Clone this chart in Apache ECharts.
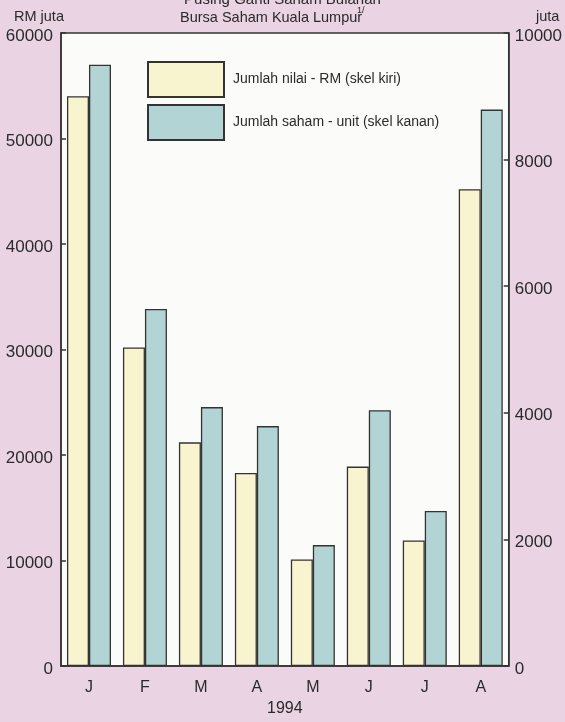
<!DOCTYPE html>
<html>
<head>
<meta charset="utf-8">
<script src="https://cdn.jsdelivr.net/npm/echarts@6/dist/echarts.min.js"></script>
<style>
  html, body { margin: 0; padding: 0; background: #ead4e4; }
  #main { width: 565px; height: 722px; }
</style>
</head>
<body>
<div id="main"></div>
<script>
// bulan 1994
const months = ["J", "F", "M", "A", "M", "J", "J", "A"];
// Jumlah nilai - RM juta (skel kiri)
const nilaiRM = [54000, 30200, 21200, 18300, 10100, 18900, 11900, 45200];
// Jumlah saham - juta unit (skel kanan)
const sahamUnit = [9500, 5640, 4090, 3790, 1910, 4040, 2450, 8790];

const leftTicks = { min: 0, max: 60000, interval: 10000 };
const rightTicks = { min: 0, max: 10000, interval: 2000 };

const chart = echarts.init(document.getElementById("main"));
const font = "Liberation Sans, Arial, sans-serif";
const ink = "#2a2a2a";

// nombor tanpa koma, turun sikit dari tick
function tickLabel(v) {
  return "{v|" + v + "}";
}
const tickRich = { v: { fontSize: 17, color: ink, fontFamily: font, padding: [6, 0, 0, 0] } };

const option = {
  backgroundColor: "#ead4e4",
  textStyle: { fontFamily: font },
  title: [
    {
      text: "Pusing Ganti Saham Bulanan",
      left: "center", top: -13,
      textStyle: { fontSize: 15, fontWeight: "normal", color: ink, fontFamily: font }
    },
    {
      text: "Bursa Saham Kuala Lumpur",
      left: 175, top: 5,
      textStyle: { fontSize: 14.5, fontWeight: "normal", color: ink, fontFamily: font }
    },
    {
      text: "1/",
      left: 352, top: 1,
      textStyle: { fontSize: 9, fontWeight: "normal", color: ink, fontFamily: font }
    },
    {
      text: "RM juta",
      left: 9, top: 4,
      textStyle: { fontSize: 14.5, fontWeight: "normal", color: ink, fontFamily: font }
    },
    {
      text: "juta",
      left: 531, top: 4,
      textStyle: { fontSize: 14.5, fontWeight: "normal", color: ink, fontFamily: font }
    }
  ],
  legend: {
    orient: "vertical",
    left: 142, top: 56,
    itemWidth: 76, itemHeight: 35, itemGap: 6,
    icon: "rect",
    textStyle: { fontSize: 14, color: ink, fontFamily: font, padding: [0, 0, 0, 4] },
    data: ["Jumlah nilai - RM (skel kiri)", "Jumlah saham - unit (skel kanan)"]
  },
  grid: {
    left: 61, right: 55, top: 33, bottom: 54,
    show: true,
    backgroundColor: "#fbfbf9",
    borderColor: "#333",
    borderWidth: 1.5
  },
  xAxis: {
    type: "category",
    data: months,
    axisLine: { lineStyle: { color: "#333", width: 1.5 } },
    axisTick: { show: false },
    axisLabel: { fontSize: 16, color: ink, margin: 14, fontFamily: font },
    name: "1994",
    nameLocation: "middle",
    nameGap: 35,
    nameTextStyle: { fontSize: 16, color: ink, fontFamily: font }
  },
  yAxis: [
    {
      type: "value",
      min: leftTicks.min, max: leftTicks.max, interval: leftTicks.interval,
      splitLine: { show: false },
      axisLine: { show: true, lineStyle: { color: "#333", width: 1.5 } },
      axisTick: { show: true, inside: true, length: 5, lineStyle: { color: "#333", width: 1.5 } },
      axisLabel: { margin: 8, formatter: tickLabel, rich: tickRich }
    },
    {
      type: "value",
      min: rightTicks.min, max: rightTicks.max, interval: rightTicks.interval,
      alignTicks: false,
      splitLine: { show: false },
      axisLine: { show: true, lineStyle: { color: "#333", width: 1.5 } },
      axisTick: { show: true, inside: true, length: 5, lineStyle: { color: "#333", width: 1.5 } },
      axisLabel: { margin: 6, formatter: tickLabel, rich: tickRich }
    }
  ],
  series: [
    {
      name: "Jumlah nilai - RM (skel kiri)",
      type: "bar",
      yAxisIndex: 0,
      data: nilaiRM,
      barWidth: 22,
      barGap: "0%",
      itemStyle: { color: "#f7f4cf", borderColor: "#333", borderWidth: 1.3 }
    },
    {
      name: "Jumlah saham - unit (skel kanan)",
      type: "bar",
      yAxisIndex: 1,
      data: sahamUnit,
      barWidth: 22,
      barGap: "0%",
      itemStyle: { color: "#b3d4d5", borderColor: "#333", borderWidth: 1.3 }
    }
  ]
};

chart.setOption(option);
</script>
</body>
</html>
